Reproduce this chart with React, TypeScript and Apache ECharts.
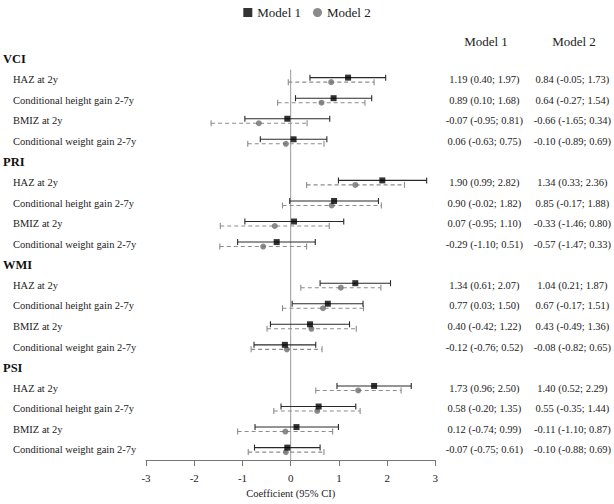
import React, { useEffect, useRef } from "react";
import * as echarts from "echarts";

const groups = ["VCI", "PRI", "WMI", "PSI"];
const outcomes = [
  "HAZ at 2y",
  "Conditional height gain 2-7y",
  "BMIZ at 2y",
  "Conditional weight gain 2-7y",
];
const seriesNames = ["Model 1", "Model 2"];
const xTicks = [-3, -2, -1, 0, 1, 2, 3];

const m1Est = [1.19, 0.89, -0.07, 0.06, 1.9, 0.9, 0.07, -0.29, 1.34, 0.77, 0.4, -0.12, 1.73, 0.58, 0.12, -0.07];
const m1Lo = [0.4, 0.1, -0.95, -0.63, 0.99, -0.02, -0.95, -1.1, 0.61, 0.03, -0.42, -0.76, 0.96, -0.2, -0.74, -0.75];
const m1Hi = [1.97, 1.68, 0.81, 0.75, 2.82, 1.82, 1.1, 0.51, 2.07, 1.5, 1.22, 0.52, 2.5, 1.35, 0.99, 0.61];
const m2Est = [0.84, 0.64, -0.66, -0.1, 1.34, 0.85, -0.33, -0.57, 1.04, 0.67, 0.43, -0.08, 1.4, 0.55, -0.11, -0.1];
const m2Lo = [-0.05, -0.27, -1.65, -0.89, 0.33, -0.17, -1.46, -1.47, 0.21, -0.17, -0.49, -0.82, 0.52, -0.35, -1.1, -0.88];
const m2Hi = [1.73, 1.54, 0.34, 0.69, 2.36, 1.88, 0.8, 0.33, 1.87, 1.51, 1.36, 0.65, 2.29, 1.44, 0.87, 0.69];

const FONT = "'Liberation Serif', 'Times New Roman', serif";

type Row = { heading?: string; label?: string; k?: number };

function buildRows(): Row[] {
  const rows: Row[] = [];
  groups.forEach((g, gi) => {
    rows.push({ heading: g });
    outcomes.forEach((o, oi) => rows.push({ label: o, k: gi * outcomes.length + oi }));
  });
  return rows;
}

const fmt = (v: number) => v.toFixed(2);
const ciText = (e: number, l: number, h: number) => `${fmt(e)} (${fmt(l)}; ${fmt(h)})`;

export default function App() {
  const ref = useRef<HTMLDivElement>(null);
  useEffect(() => {
    if (!ref.current) return;
    const chart = echarts.init(ref.current, undefined, { renderer: "svg" });
    const rows = buildRows();
    const cats = rows.map((_, i) => String(i));
    const m1Bars: number[][] = [];
    const m2Bars: number[][] = [];
    const m1Pts: number[][] = [];
    const m2Pts: number[][] = [];
    rows.forEach((r, i) => {
      if (r.k === undefined) return;
      const k = r.k;
      m1Bars.push([m1Lo[k], m1Hi[k], i]);
      m2Bars.push([m2Lo[k], m2Hi[k], i]);
      m1Pts.push([m1Est[k], i]);
      m2Pts.push([m2Est[k], i]);
    });
    const OFF1 = -2.2;
    const OFF2 = 2.3;
    const CAP = 3;

    const barRender = (off: number, color: string, dashed: boolean) => (params: any, api: any) => {
      const idx = api.value(2);
      const p1 = api.coord([api.value(0), idx]);
      const p2 = api.coord([api.value(1), idx]);
      const y = p1[1] + off;
      const style = { stroke: color, lineWidth: 1.1, lineDash: dashed ? [4, 3] : null };
      return {
        type: "group",
        children: [
          { type: "line", shape: { x1: p1[0], y1: y, x2: p2[0], y2: y }, style },
          { type: "line", shape: { x1: p1[0], y1: y - CAP, x2: p1[0], y2: y + CAP }, style: { stroke: color, lineWidth: 1.1 } },
          { type: "line", shape: { x1: p2[0], y1: y - CAP, x2: p2[0], y2: y + CAP }, style: { stroke: color, lineWidth: 1.1 } },
        ],
      };
    };

    const baseCatAxis = {
      type: "category",
      data: cats,
      inverse: true,
      axisLine: { show: false },
      axisTick: { show: false },
      splitLine: { show: false },
    };

    chart.setOption({
      animation: false,
      textStyle: { fontFamily: FONT },
      legend: {
        data: [
          { name: seriesNames[0], icon: "rect" },
          { name: seriesNames[1], icon: "circle" },
        ],
        top: 1,
        left: "center",
        itemWidth: 9,
        itemHeight: 9,
        itemGap: 12,
        textStyle: { fontFamily: FONT, fontSize: 13, color: "#222" },
      },
      grid: { left: 146, right: 177, top: 49, bottom: 39, containLabel: false },
      xAxis: {
        type: "value",
        min: -3,
        max: 3,
        interval: 1,
        axisLine: { show: true, lineStyle: { color: "#777", width: 1 } },
        axisTick: { show: true, length: 6, lineStyle: { color: "#777" } },
        splitLine: { show: false },
        axisLabel: {
          fontFamily: FONT,
          fontSize: 11,
          color: "#222",
          margin: 12,
          formatter: (v: number) => (xTicks.includes(v) ? String(v) : ""),
        },
        name: "Coefficient (95% CI)",
        nameLocation: "middle",
        nameGap: 23,
        nameTextStyle: { fontFamily: FONT, fontSize: 10.5, color: "#222" },
      },
      yAxis: [
        {
          ...baseCatAxis,
          position: "left",
          axisLabel: {
            align: "left",
            margin: 133,
            fontFamily: FONT,
            fontSize: 10.5,
            color: "#222",
            formatter: (_v: string, i: number) => rows[i].label || "",
          },
        },
        {
          ...baseCatAxis,
          position: "left",
          axisLabel: {
            align: "left",
            margin: 143,
            fontFamily: FONT,
            fontSize: 12.5,
            fontWeight: "bold",
            color: "#111",
            formatter: (_v: string, i: number) => rows[i].heading || "",
          },
        },
        {
          ...baseCatAxis,
          position: "right",
          axisLabel: {
            align: "center",
            margin: 49,
            fontFamily: FONT,
            fontSize: 10.5,
            color: "#222",
            formatter: (_v: string, i: number) => {
              const k = rows[i].k;
              return k === undefined ? "" : ciText(m1Est[k], m1Lo[k], m1Hi[k]);
            },
          },
        },
        {
          ...baseCatAxis,
          position: "right",
          axisLabel: {
            align: "center",
            margin: 137,
            fontFamily: FONT,
            fontSize: 10.5,
            color: "#222",
            formatter: (_v: string, i: number) => {
              const k = rows[i].k;
              return k === undefined ? "" : ciText(m2Est[k], m2Lo[k], m2Hi[k]);
            },
          },
        },
      ],
      graphic: [
        {
          type: "text",
          x: 486,
          y: 41,
          style: { text: seriesNames[0], fill: "#222", fontSize: 13, fontFamily: FONT, align: "center", verticalAlign: "middle" },
        },
        {
          type: "text",
          x: 574,
          y: 41,
          style: { text: seriesNames[1], fill: "#222", fontSize: 13, fontFamily: FONT, align: "center", verticalAlign: "middle" },
        },
      ],
      series: [
        {
          type: "custom",
          silent: true,
          data: [[0]],
          renderItem: (params: any, api: any) => {
            const top = api.coord([0, 1]);
            const bot = api.coord([0, rows.length - 1]);
            const h = api.size([0, 1])[1];
            return {
              type: "line",
              shape: { x1: top[0], y1: top[1] - h / 2, x2: bot[0], y2: bot[1] + h / 2 },
              style: { stroke: "#9a9a9a", lineWidth: 1 },
            };
          },
          z: 1,
        },
        {
          type: "custom",
          data: m2Bars,
          encode: { x: [0, 1], y: 2 },
          renderItem: barRender(OFF2, "#8c8c8c", true),
          z: 2,
        },
        {
          type: "custom",
          data: m1Bars,
          encode: { x: [0, 1], y: 2 },
          renderItem: barRender(OFF1, "#2a2a2a", false),
          z: 3,
        },
        {
          name: seriesNames[1],
          type: "scatter",
          data: m2Pts,
          symbol: "circle",
          symbolSize: 6,
          symbolOffset: [0, OFF2],
          itemStyle: { color: "#6e6e6e" },
          z: 4,
        },
        {
          name: seriesNames[0],
          type: "scatter",
          data: m1Pts,
          symbol: "rect",
          symbolSize: 6,
          symbolOffset: [0, OFF1],
          itemStyle: { color: "#000" },
          z: 5,
        },
      ],
    });
    return () => chart.dispose();
  }, []);
  return (
    <div
      ref={ref}
      style={{ position: "fixed", left: 0, top: 0, width: 614, height: 504, background: "#fff" }}
    />
  );
}
